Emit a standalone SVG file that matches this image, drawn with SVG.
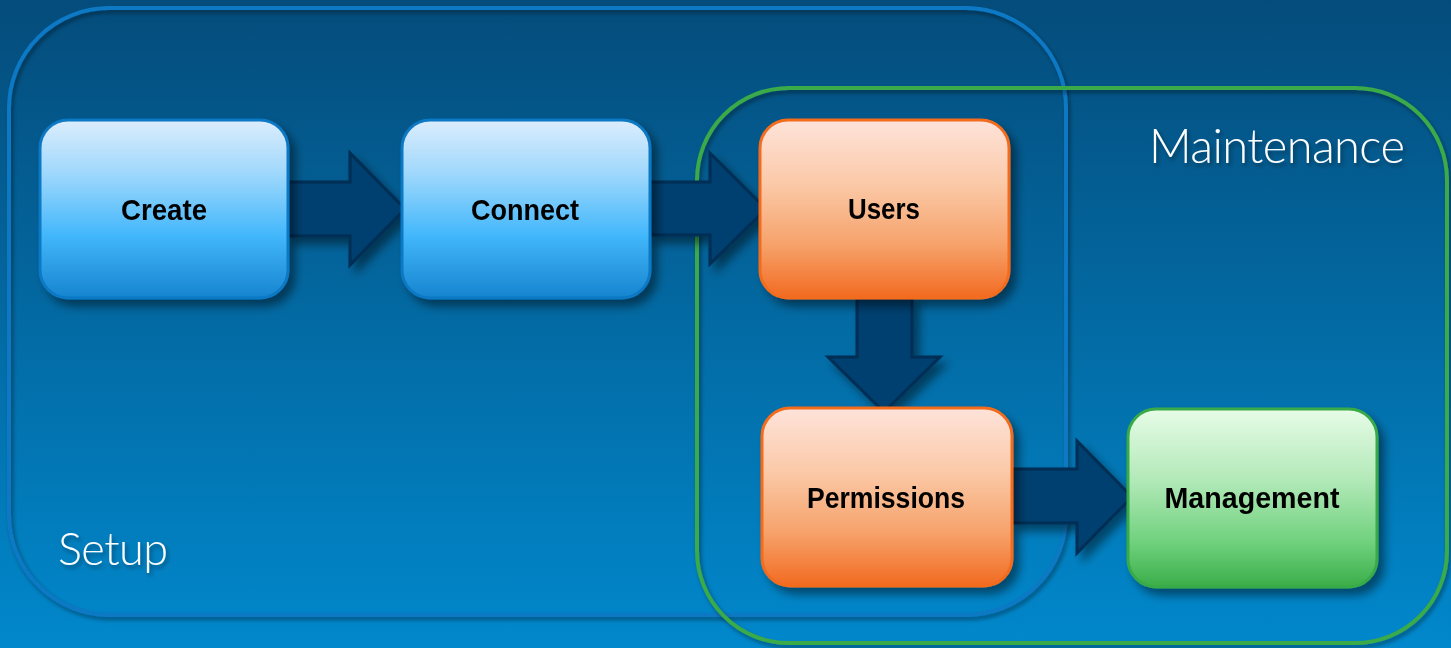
<svg xmlns="http://www.w3.org/2000/svg" width="1451" height="648" viewBox="0 0 1451 648">
  <defs>
    <linearGradient id="bg" x1="0" y1="0" x2="0" y2="1">
      <stop offset="0" stop-color="#044c7b"/>
      <stop offset="0.5" stop-color="#036aa3"/>
      <stop offset="1" stop-color="#0188cc"/>
    </linearGradient>
    <linearGradient id="gBlue" x1="0" y1="0" x2="0" y2="1">
      <stop offset="0" stop-color="#dcedfd"/>
      <stop offset="0.3" stop-color="#9fd8fc"/>
      <stop offset="0.65" stop-color="#42b7fb"/>
      <stop offset="1" stop-color="#1684cf"/>
    </linearGradient>
    <linearGradient id="gOrange" x1="0" y1="0" x2="0" y2="1">
      <stop offset="0" stop-color="#fee3da"/>
      <stop offset="0.35" stop-color="#fbcaa9"/>
      <stop offset="0.7" stop-color="#f6a26a"/>
      <stop offset="1" stop-color="#f26a21"/>
    </linearGradient>
    <linearGradient id="gGreen" x1="0" y1="0" x2="0" y2="1">
      <stop offset="0" stop-color="#e7fce7"/>
      <stop offset="0.4" stop-color="#b2e9b8"/>
      <stop offset="0.75" stop-color="#6fd17d"/>
      <stop offset="1" stop-color="#3aad49"/>
    </linearGradient>
    <filter id="shadow" x="-20%" y="-20%" width="150%" height="150%">
      <feGaussianBlur in="SourceAlpha" stdDeviation="5"/>
      <feOffset dx="6" dy="7" result="b"/>
      <feComponentTransfer><feFuncA type="linear" slope="0.45"/></feComponentTransfer>
      <feMerge><feMergeNode/><feMergeNode in="SourceGraphic"/></feMerge>
    </filter>
    <filter id="tshadow" x="-20%" y="-30%" width="150%" height="180%">
      <feGaussianBlur in="SourceAlpha" stdDeviation="2"/>
      <feOffset dx="2" dy="3"/>
      <feComponentTransfer><feFuncA type="linear" slope="0.4"/></feComponentTransfer>
      <feMerge><feMergeNode/><feMergeNode in="SourceGraphic"/></feMerge>
    </filter>
  </defs>
  <style>
    .frame { fill: none; stroke-width: 4; }
    .title { font-family: Lato, "Open Sans", "Liberation Sans", sans-serif; font-weight: 300; fill: #ffffff; }
    .node rect { stroke-width: 3; }
    .blue rect { fill: url(#gBlue); stroke: #0b78c3; }
    .orange rect { fill: url(#gOrange); stroke: #f26c1f; }
    .green rect { fill: url(#gGreen); stroke: #39aa47; }
    .label { font-family: "Liberation Sans", Arial, sans-serif; font-weight: bold; font-size: 30px; fill: #000000; text-anchor: middle; }
    .arrow { fill: #00406f; stroke: #002d54; stroke-width: 3; stroke-linejoin: miter; }
  </style>

  <rect x="0" y="0" width="1451" height="648" fill="url(#bg)"/>

  <!-- stage frames -->
  <g id="setup">
    <rect class="frame" x="9" y="8" width="1057" height="607" rx="100" stroke="#0a78c4" filter="url(#tshadow)"/>
    <text class="title" x="58" y="565" font-size="45" textLength="110" filter="url(#tshadow)">Setup</text>
  </g>
  <g id="maintenance">
    <rect class="frame" x="697" y="88" width="750" height="555" rx="92" stroke="#3aaa48" filter="url(#tshadow)"/>
    <text class="title" x="1149" y="163" font-size="47" textLength="256" filter="url(#tshadow)">Maintenance</text>
  </g>

  <!-- block arrows -->
  <g id="connectors" filter="url(#shadow)">
    <path class="arrow" d="M288,182 H350 V153 L405,209 L350,265 V236 H288 Z"/>
    <path class="arrow" d="M650,182 H710 V153 L766,209 L710,264 V235 H650 Z"/>
    <path class="arrow" d="M857,298 V357 H828 L884,412 L940,357 H912 V298 Z"/>
    <path class="arrow" d="M1012,469 H1077 V441 L1132,497 L1077,553 V523 H1012 Z"/>
  </g>

  <!-- steps -->
  <g id="create" class="node blue" filter="url(#shadow)">
    <rect x="40" y="120" width="248" height="178" rx="28"/>
    <text class="label" x="164" y="220" textLength="86" lengthAdjust="spacingAndGlyphs">Create</text>
  </g>
  <g id="connect" class="node blue" filter="url(#shadow)">
    <rect x="402" y="120" width="248" height="178" rx="28"/>
    <text class="label" x="525" y="220" textLength="108" lengthAdjust="spacingAndGlyphs">Connect</text>
  </g>
  <g id="users" class="node orange" filter="url(#shadow)">
    <rect x="760" y="120" width="249" height="178" rx="28"/>
    <text class="label" x="884" y="219" textLength="72" lengthAdjust="spacingAndGlyphs">Users</text>
  </g>
  <g id="permissions" class="node orange" filter="url(#shadow)">
    <rect x="762" y="408" width="250" height="178" rx="28"/>
    <text class="label" x="886" y="508" textLength="158" lengthAdjust="spacingAndGlyphs">Permissions</text>
  </g>
  <g id="management" class="node green" filter="url(#shadow)">
    <rect x="1128" y="409" width="249" height="178" rx="28"/>
    <text class="label" x="1252" y="508" textLength="175" lengthAdjust="spacingAndGlyphs">Management</text>
  </g>
</svg>
